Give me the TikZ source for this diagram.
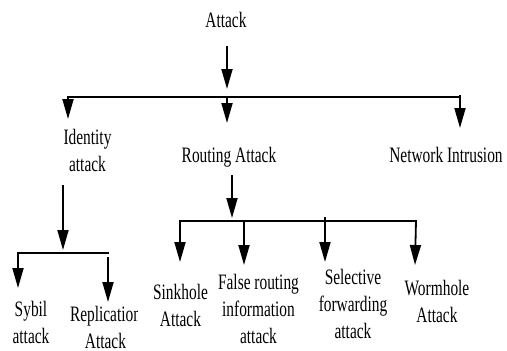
\documentclass[tikz,border=0pt]{standalone}
\usepackage{fontspec}
\setmainfont[FakeStretch=0.7]{Liberation Serif}
\usetikzlibrary{arrows.meta}
\begin{document}
\begin{tikzpicture}[x=1pt,y=-1pt,
  lbl/.style={inner sep=0pt, anchor=base, align=center, font=\fontsize{22}{27}\selectfont},
  bus/.style={line width=1.8pt, line cap=rect},
  arr/.style={line width=1.8pt, -{Triangle[length=20pt,width=11pt]}}]
\useasboundingbox (0,0) rectangle (507,351);
% labels (anchor = baseline of last line)
\node[lbl] (attack) at (226,27) {Attack};
\node[lbl] (ident) at (87.5,171) {Identity\\attack};
\node[lbl] (routing) at (229,162) {Routing Attack};
\node[lbl] (netint) at (446,162) {Network Intrusion};
\node[lbl] (sybil) at (31,343) {Sybil\\attack};
\begin{scope}
\clip (0,0) rectangle (137,351);
\node[lbl] (repl) at (105.5,348) {Replication\\Attack};
\end{scope}
\node[lbl] (sink) at (180.5,326) {Sinkhole\\Attack};
\node[lbl] (false) at (258.5,343) {False routing\\information\\attack};
\node[lbl] (sel) at (353,338) {Selective\\forwarding\\attack};
\node[lbl] (worm) at (437,322) {Wormhole\\Attack};
% coordinates
\coordinate (a0) at (227,46);
\coordinate (a1) at (227,89);
\coordinate (busL) at (68,97.3);
\coordinate (busR) at (460,97.3);
\coordinate (t1) at (68,119);
\coordinate (t2) at (227,123);
\coordinate (t3) at (460,128);
\coordinate (i0) at (63,185);
\coordinate (i1) at (63,250);
\coordinate (ibL) at (18,252.7);
\coordinate (ibR) at (108,252.7);
\coordinate (it1) at (18,288);
\coordinate (it2a) at (108,257);
\coordinate (it2) at (108,302);
\coordinate (r0) at (232,175);
\coordinate (r1) at (232,218);
\coordinate (rbL) at (180,220.7);
\coordinate (rbR) at (416,220.7);
\coordinate (rt1) at (180,262);
\coordinate (rt2) at (244,265);
\coordinate (rt3a) at (325,217);
\coordinate (rt3) at (325,262);
\coordinate (rt4) at (415,265);
% connectors
\draw[arr] (a0) -- (a1);
\draw[bus] (busL) -- (busR);
\draw[arr] (busL) -- (t1);
\draw[arr] (a1 |- busL) -- (t2);
\draw[arr] ([yshift=2pt]busR) -- (t3);
\draw[arr] (i0) -- (i1);
\draw[bus] (ibL) -- (ibR);
\draw[arr] (ibL) -- (it1);
\draw[arr] (it2a) -- (it2);
\draw[arr] (r0) -- (r1);
\draw[bus] (rbL) -- (rbR);
\draw[arr] (rbL) -- (rt1);
\draw[arr] (rt2 |- rbL) -- (rt2);
\draw[arr] (rt3a) -- (rt3);
\draw[arr] (rbR) -- (rt4);
\end{tikzpicture}
\end{document}
